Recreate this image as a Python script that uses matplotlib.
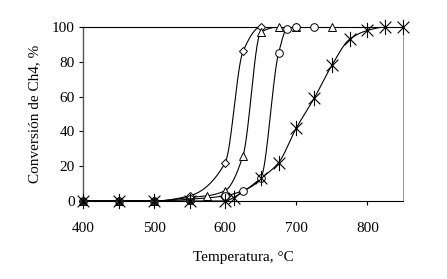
import numpy as np
import matplotlib
matplotlib.use("Agg")
import matplotlib.pyplot as plt
from matplotlib.path import Path

# Data
t_square = [400, 450, 500, 550]
v_square = [0, 0, 0, 0]

t_diamond = [400, 450, 500, 550, 600, 625, 650, 700]
v_diamond = [0, 0, 0, 3, 22, 86, 100, 100]

t_triangle = [400, 450, 500, 550, 575, 600, 625, 650, 675, 700, 750]
v_triangle = [0, 0, 0, 2, 3, 6, 26, 97, 100, 100, 100]

t_circle = [400, 450, 500, 550, 600, 625, 650, 675, 687, 700, 725]
v_circle = [0, 0, 0, 1, 3, 6, 13, 85, 99, 100, 100]

t_star = [400, 450, 500, 550, 600, 612, 650, 675, 700, 725, 750, 775, 800, 825, 850]
v_star = [0, 0, 0, 0, 0, 2, 13, 22, 42, 59, 78, 93, 98, 100, 100]

x_ticks = [400, 500, 600, 700, 800]
y_ticks = [0, 20, 40, 60, 80, 100]


def pchip(x, y, n=400):
    x = np.asarray(x, float)
    y = np.asarray(y, float)
    h = np.diff(x)
    d = np.diff(y) / h
    m = np.zeros_like(y)
    for k in range(1, len(x) - 1):
        if d[k - 1] * d[k] <= 0:
            m[k] = 0
        else:
            w1 = 2 * h[k] + h[k - 1]
            w2 = h[k] + 2 * h[k - 1]
            m[k] = (w1 + w2) / (w1 / d[k - 1] + w2 / d[k])
    m[0] = d[0]
    m[-1] = d[-1]
    xs = np.linspace(x[0], x[-1], n)
    ys = np.empty_like(xs)
    for i, xv in enumerate(xs):
        k = min(np.searchsorted(x, xv, side="right") - 1, len(x) - 2)
        tt = (xv - x[k]) / h[k]
        h00 = 2 * tt**3 - 3 * tt**2 + 1
        h10 = tt**3 - 2 * tt**2 + tt
        h01 = -2 * tt**3 + 3 * tt**2
        h11 = tt**3 - tt**2
        ys[i] = h00 * y[k] + h10 * h[k] * m[k] + h01 * y[k + 1] + h11 * h[k] * m[k + 1]
    return xs, ys


plt.rcParams['font.family'] = ['Liberation Serif', 'DejaVu Serif']

fig = plt.figure(figsize=(4.47, 2.79), dpi=100)
ax = fig.add_axes([0.1857, 0.2796, 0.7159, 0.6236])

star_path = Path(
    [(-1, -1), (1, 1), (-1, 1), (1, -1), (0, -1.3), (0, 1.3)],
    [Path.MOVETO, Path.LINETO, Path.MOVETO, Path.LINETO, Path.MOVETO, Path.LINETO],
)

series = [
    (t_diamond, v_diamond, dict(marker='D', markersize=4, mfc='white', mec='black', mew=0.7)),
    (t_triangle, v_triangle, dict(marker='^', markersize=5.5, mfc='white', mec='black', mew=0.7)),
    (t_circle, v_circle, dict(marker='o', markersize=5.5, mfc='white', mec='black', mew=0.7)),
    (t_square, v_square, dict(marker='s', markersize=5, mfc='#2a2a2a', mec='#2a2a2a', mew=0.7)),
    (t_star, v_star, dict(marker=star_path, markersize=11, mfc='none', mec='black', mew=0.8)),
]

for tx, vy, st in series:
    xs, ys = pchip(tx, vy)
    ax.plot(xs, ys, color='black', lw=0.8, zorder=2)
    ax.plot(tx, vy, linestyle='none', zorder=3, clip_on=False, **st)

ax.set_xlim(400, 850)
ax.set_ylim(0, 100)
ax.set_xticks(x_ticks)
ax.set_yticks(y_ticks)
ax.tick_params(axis='both', direction='out', length=3, width=0.8, labelsize=11, colors='black', pad=3)
ax.tick_params(axis='x', pad=12)

ax.spines['left'].set_color('#555555')
ax.spines['left'].set_linewidth(1.0)
ax.spines['bottom'].set_color('black')
ax.spines['bottom'].set_linewidth(0.8)
ax.spines['top'].set_color('black')
ax.spines['top'].set_linewidth(0.8)
ax.spines['right'].set_color('#888888')
ax.spines['right'].set_linewidth(0.6)
ax.spines['right'].set_linestyle((0, (1, 1)))

ax.set_xlabel('Temperatura, °C', fontsize=11, labelpad=12)
ax.set_ylabel('Conversión de Ch4, %', fontsize=11, labelpad=8)

fig.savefig('out.png', dpi=100)
